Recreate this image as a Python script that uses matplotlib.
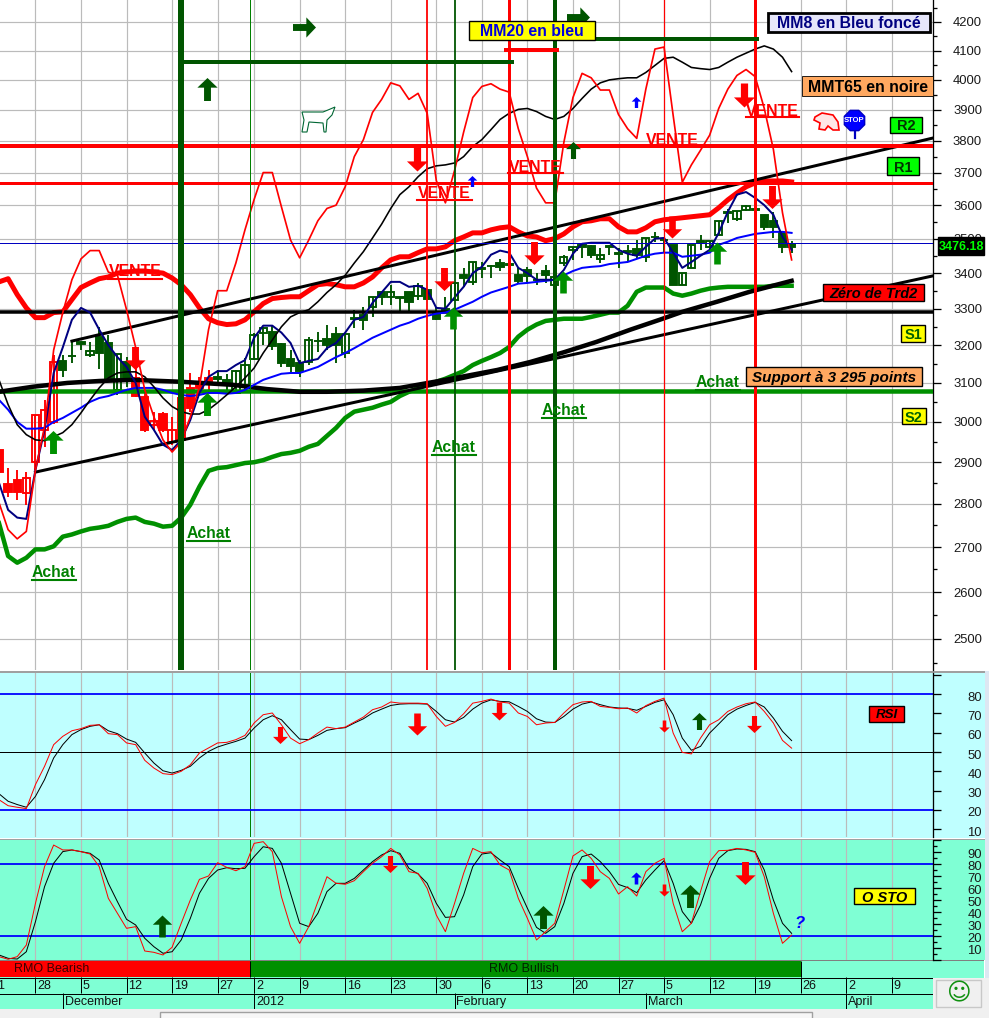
"""Trading-platform style index chart with price, RSI and stochastic panes."""

import matplotlib

matplotlib.use("Agg")
import matplotlib.pyplot as plt
import numpy as np
from matplotlib.lines import Line2D
from matplotlib.patches import Polygon, Rectangle
from matplotlib.path import Path
from matplotlib.ticker import FixedLocator, FuncFormatter, NullFormatter
from matplotlib.transforms import Affine2D, ScaledTranslation

plt.rcParams["font.family"] = ["Liberation Sans", "DejaVu Sans"]

WIDTH, HEIGHT = 989, 1018

# trading days are counted from 5 December 2011 = day 0
FIRST_DAY = -9
WEEK_DAYS = [-10, -5, 0, 5, 10, 15, 19, 24, 29, 34, 39, 44, 49, 54, 59, 64, 69, 74, 79, 84, 89]
WEEK_LABELS = ["21", "28", "5", "12", "19", "27", "2", "9", "16", "23", "30", "6", "13", "20", "27",
               "5", "12", "19", "26", "2", "9"]
MONTH_DAYS = [-2, 19, 41, 62, 84]
MONTH_LABELS = ["December", "2012", "February", "March", "April"]

CANDLE_OPEN = [2930, 2848, 2857, 2826, 2900, 2980, 3000, 3158, 3172, 3208, 3173, 3223, 3206, 3082, 3155,
               3113, 3064, 2993, 3020, 2950, 3061, 3087, 3095, 3113, 3116, 3108, 3074, 3095, 3163, 3233,
               3236, 3203, 3163, 3152, 3155, 3212, 3217, 3231, 3179, 3275, 3283, 3305, 3345, 3331, 3331,
               3345, 3336, 3353, 3289, 3298, 3325, 3394, 3375, 3415, 3420, 3429, 3426, 3394, 3409, 3381,
               3406, 3367, 3429, 3467, 3482, 3479, 3441, 3477, 3457, 3463, 3470, 3447, 3506, 3497, 3482,
               3367, 3415, 3492, 3476, 3511, 3578, 3559, 3586, 3587, 3571, 3553, 3517, 3485]
CANDLE_HIGH = [2955, 2886, 2881, 2876, 3018, 3056, 3173, 3173, 3209, 3209, 3209, 3250, 3228, 3176, 3168,
               3160, 3082, 3026, 3026, 3013, 3069, 3126, 3116, 3134, 3134, 3124, 3134, 3166, 3234, 3250,
               3256, 3206, 3187, 3160, 3223, 3236, 3256, 3250, 3231, 3297, 3305, 3333, 3345, 3367, 3333,
               3345, 3372, 3353, 3305, 3331, 3375, 3415, 3432, 3432, 3423, 3441, 3435, 3415, 3418, 3400,
               3423, 3395, 3453, 3476, 3482, 3482, 3473, 3482, 3473, 3482, 3496, 3502, 3520, 3502, 3482,
               3400, 3482, 3511, 3494, 3553, 3589, 3583, 3600, 3592, 3571, 3580, 3517, 3494]
CANDLE_LOW = [2862, 2817, 2810, 2798, 2881, 2938, 2995, 3116, 3152, 3187, 3168, 3137, 3103, 3069, 3090,
              3064, 2975, 2980, 2975, 2943, 2943, 3026, 3069, 3077, 3100, 3082, 3072, 3082, 3160, 3200,
              3187, 3142, 3129, 3116, 3147, 3181, 3187, 3152, 3166, 3247, 3242, 3277, 3311, 3311, 3291,
              3294, 3325, 3325, 3269, 3289, 3320, 3361, 3367, 3386, 3386, 3406, 3415, 3372, 3372, 3367,
              3372, 3360, 3420, 3438, 3444, 3444, 3429, 3453, 3415, 3432, 3444, 3432, 3491, 3462, 3367,
              3367, 3415, 3467, 3462, 3511, 3547, 3553, 3583, 3580, 3526, 3502, 3459, 3459]
CANDLE_CLOSE = [2876, 2829, 2829, 2862, 3018, 3031, 3155, 3134, 3170, 3204, 3184, 3179, 3108, 3176, 3108,
                3066, 2980, 3003, 2980, 2980, 2955, 3036, 3087, 3105, 3111, 3100, 3131, 3147, 3228, 3247,
                3197, 3152, 3145, 3131, 3214, 3210, 3200, 3200, 3231, 3272, 3269, 3333, 3331, 3345, 3330,
                3319, 3364, 3328, 3272, 3295, 3372, 3386, 3432, 3412, 3419, 3418, 3423, 3378, 3392, 3380,
                3394, 3389, 3447, 3476, 3476, 3453, 3453, 3475, 3455, 3461, 3453, 3502, 3504, 3495, 3367,
                3400, 3482, 3490, 3494, 3553, 3576, 3583, 3598, 3585, 3535, 3535, 3476, 3476.18]
RED_CANDLE_DAYS = [-9, -8, -7, -6, -5, -4, -3, 6, 7, 8, 9, 10, 11, 12, 13, 14]

MM8 = [2850, 2786, 2768, 2765, 2881, 2980, 3126, 3194, 3269, 3302, 3289, 3242, 3200, 3168, 3142, 3100, 3013,
       2980, 2943, 2930, 2955, 3005, 3074, 3116, 3131, 3131, 3147, 3160, 3220, 3253, 3253, 3234, 3206, 3152,
       3158, 3163, 3192, 3206, 3234, 3269, 3277, 3316, 3345, 3375, 3375, 3361, 3364, 3353, 3302, 3300, 3331,
       3361, 3400, 3418, 3453, 3465, 3459, 3415, 3400, 3381, 3381, 3381, 3409, 3456, 3485, 3488, 3488, 3488,
       3467, 3456, 3450, 3476, 3500, 3502, 3459, 3415, 3432, 3450, 3467, 3517, 3580, 3632, 3640, 3622, 3600,
       3571, 3505, 3467]
MM20 = [3056, 3031, 3000, 2983, 2983, 2985, 3000, 3010, 3023, 3036, 3051, 3061, 3066, 3074, 3082, 3087, 3087,
        3087, 3082, 3074, 3069, 3066, 3069, 3074, 3074, 3072, 3074, 3082, 3095, 3108, 3116, 3124, 3126, 3126,
        3134, 3142, 3155, 3168, 3179, 3192, 3206, 3220, 3231, 3242, 3253, 3261, 3272, 3280, 3286, 3289, 3297,
        3308, 3319, 3333, 3345, 3353, 3361, 3370, 3372, 3375, 3378, 3381, 3394, 3406, 3415, 3418, 3420, 3426,
        3429, 3432, 3441, 3450, 3456, 3459, 3459, 3447, 3450, 3453, 3459, 3482, 3491, 3502, 3508, 3514, 3517,
        3520, 3520, 3517]
THIN_BLACK = [3108, 3044, 2993, 2968, 2955, 2953, 2963, 2973, 2993, 3023, 3056, 3087, 3113, 3126, 3129, 3129,
              3116, 3090, 3061, 3039, 3026, 3020, 3020, 3031, 3049, 3069, 3090, 3113, 3139, 3179, 3214, 3250,
              3277, 3289, 3297, 3319, 3345, 3367, 3394, 3429, 3462, 3502, 3543, 3590, 3632, 3656, 3687, 3712,
              3721, 3724, 3730, 3750, 3782, 3804, 3836, 3869, 3889, 3902, 3905, 3895, 3879, 3869, 3879, 3905,
              3938, 3969, 3990, 4000, 4004, 4007, 4007, 4025, 4049, 4073, 4077, 4060, 4042, 4038, 4035, 4042,
              4060, 4077, 4091, 4105, 4116, 4105, 4077, 4028]
THIN_RED = [2803, 2740, 2719, 2736, 2881, 2988, 3187, 3289, 3381, 3441, 3465, 3465, 3403, 3394, 3297, 3194,
            3082, 3013, 2955, 2925, 2950, 3013, 3090, 3242, 3350, 3350, 3429, 3526, 3617, 3700, 3700, 3595,
            3496, 3444, 3496, 3553, 3590, 3600, 3656, 3750, 3804, 3892, 3935, 3990, 3980, 3935, 3955, 3889,
            3675, 3607, 3706, 3828, 3941, 3978, 3987, 3969, 3959, 3839, 3750, 3652, 3607, 3607, 3795, 3941,
            4022, 4007, 3966, 3966, 3885, 3839, 3808, 3969, 4105, 4112, 3882, 3670, 3724, 3770, 3818, 3905,
            3969, 4015, 4035, 4011, 3905, 3773, 3577, 3438]
BAND_UP = [3375, 3384, 3339, 3302, 3275, 3275, 3289, 3291, 3325, 3359, 3372, 3384, 3389, 3400, 3403, 3406, 3406,
           3403, 3400, 3386, 3367, 3339, 3302, 3272, 3261, 3256, 3258, 3269, 3291, 3314, 3328, 3331, 3333, 3333,
           3350, 3367, 3370, 3367, 3361, 3361, 3372, 3389, 3415, 3438, 3447, 3447, 3459, 3470, 3470, 3476, 3494,
           3505, 3517, 3517, 3526, 3532, 3535, 3520, 3508, 3505, 3494, 3500, 3514, 3535, 3550, 3553, 3559, 3559,
           3535, 3520, 3520, 3532, 3550, 3556, 3559, 3562, 3565, 3568, 3571, 3592, 3616, 3637, 3656, 3668, 3674,
           3674, 3674, 3671]
BAND_DOWN = [2755, 2680, 2665, 2676, 2695, 2695, 2702, 2724, 2729, 2736, 2742, 2745, 2749, 2758, 2765, 2768, 2758,
             2754, 2747, 2749, 2768, 2798, 2841, 2879, 2886, 2888, 2893, 2898, 2900, 2905, 2913, 2920, 2923, 2928,
             2938, 2945, 2965, 2985, 3010, 3026, 3031, 3036, 3044, 3051, 3066, 3077, 3087, 3095, 3103, 3111, 3121,
             3131, 3147, 3158, 3168, 3179, 3195, 3223, 3242, 3256, 3266, 3269, 3272, 3272, 3272, 3277, 3283, 3289,
             3289, 3308, 3347, 3359, 3359, 3359, 3342, 3336, 3342, 3350, 3356, 3359, 3361, 3361, 3361, 3361, 3361,
             3364, 3364, 3364]
MMT65_DAYS = [-9, -5.3, -1.5, 2, 5.7, 11, 16.7, 20.4, 24, 27, 31, 35, 40, 45.7, 49.3, 53, 56.6, 60.3, 63.5, 66,
              69.8, 73.4, 78]
MMT65_VALUES = [3077, 3090, 3100, 3105, 3108, 3103, 3095, 3084, 3077, 3077, 3080, 3087, 3108, 3134, 3155, 3181,
                3209, 3242, 3269, 3291, 3319, 3347, 3378]

TREND_UP_DAYS = [-1, 93.5]
TREND_UP_VALUES = [3211, 3809]
TREND_LOW_DAYS = [-5, 93.5]
TREND_LOW_VALUES = [2876, 3392]

R2_LEVEL, R1_LEVEL, ZERO_TRD2, S2_LEVEL, LAST_LINE = 3785, 3667, 3290, 3080, 3488
LAST_PRICE = "3476.18"
HIGH_STOP_LEVEL, MID_STOP_LEVEL, RED_STOP_LEVEL = 4060, 4139, 4102

GREEN_VERTICAL_THICK = 11
THIN_GREEN_VERTICAL = 18.5
RMO_BEAR_END, RMO_BULL_END = 18.5, 79

RSI_BLACK = [28.4, 24.5, 22.8, 21.4, 27, 35.7, 46.9, 53.8, 59, 61.6, 63.3, 64.1, 61, 59.5, 56.7, 55, 49.5, 44.3,
             40.3, 39.1, 40.5, 42.6, 46.9, 50.3, 52.6, 54.1, 55.5, 57.2, 62.4, 66.7, 68.8, 66.7, 61.6, 56.7, 56.4,
             58.6, 61.2, 62.1, 62.6, 65, 67.2, 70.2, 72.2, 74.1, 74.8,
             75, 75, 74.8, 71, 66.7, 65.5, 67.9, 72.2, 75.3, 77, 76.2, 76, 73.6, 71, 67.2, 65.5, 65.3, 68.4, 72.2,
             74.8, 75.9, 74.5, 73.3, 72.8, 72.6, 71.6, 73.6, 75.7, 77, 69.3, 57.2, 50.9, 52.9, 59.8, 64.5, 69.3,
             72.2, 74.1, 75.7, 73.3, 67.6, 60.7, 55.9]
RSI_RED = [25.3, 22.2, 21.4, 20.7, 33.1, 42.6, 53.8, 58.1, 61, 62.1, 63.8, 64.1, 59.5, 59, 54.7, 53.8, 45.7, 41.7,
           38.8, 38.3, 40, 43.4, 49.5, 52.1, 54.7, 55, 56.4, 58.6, 65, 69.3, 70.2, 64.1, 57.2, 54.3, 56.4, 59.8,
           62.9, 62.1, 62.9, 65.5, 68.1, 71.9, 73.3, 75.9, 75.3,
           75.3, 75.3, 75, 68.4, 63.3, 65.3, 69.8, 75.3, 76.2, 77.4, 75.9, 75.3, 70.2, 68.4, 64.1, 65, 65.3, 70.2,
           74.5, 75.9, 76.2, 73.6, 73.1, 72.4, 72.8, 70.2, 74, 76.2, 77.9, 59.8, 49.8, 49, 57.2, 64.1, 66.7, 71,
           73.3, 75, 75.9, 71, 65, 56, 52]
STO_BLACK = [4.2, 1.4, 0.8, 6.9, 31.9, 61.1, 80.6, 90.3, 91.7, 90.3, 88.9, 83.3, 63.9, 48.6, 33.9, 29.2, 18.1, 11.1,
             5.6, 6.9, 16.7, 34.7, 55.6, 68, 75, 76.9, 76.1, 76.4, 86.1, 94.4, 93, 80.6, 55.6, 30.6, 27.8, 38.9, 57,
             63.9, 63.9, 68, 75, 82, 87.5, 91.1, 88.9,
             76.4, 71.7, 63.9, 47.2, 35.5, 36.1, 54.2, 77.8, 88.3, 89.4, 83.3, 77.8, 59.7, 43.1, 27.2, 22.2, 27.8,
             47.2, 72.2, 86.1, 88.3, 82, 73.6, 63, 60.3, 56.1, 66.7, 75, 82.8, 63.9, 40.3, 30.6, 45.8, 68, 84.7,
             91.1, 92.5, 92.2, 90.3, 75, 50, 30.6, 22.2]
STO_RED = [2.8, 0.6, 2.8, 12.5, 47.2, 77.8, 95.8, 91.7, 91.7, 90.3, 88.3, 77.8, 51.4, 38.9, 26.4, 27.8, 7.5, 6.4, 4.2,
           10.6, 30.6, 50, 67.2, 70, 81.1, 77.2, 74.4, 77.8, 97.2, 98.6, 90.3, 52.8, 27.8, 13.9, 27.8, 48.6, 69.4,
           63.9, 63.1, 66.1, 73.6, 80.6, 86.1, 93, 87.5,
           73.6, 72.2, 59.7, 37.5, 23.6, 47.2, 72.2, 93, 89.4, 90.3, 79.2, 75, 51.4, 34.7, 16.7, 23.6, 30.6, 58.3,
           86.7, 91.7, 84.7, 73.6, 68, 55, 61.1, 53.3, 73.6, 80.6, 84.7, 47.2, 23.6, 30.6, 57, 82, 91.1, 91.4, 93,
           91.7, 89.7, 69.4, 38.9, 13.9, 20.8]

SELL_DAYS = [5.93, 36.9, 39.85, 49.7, 64.9, 72.8, 75.85]
SELL_PRICES = [3165, 3742, 3384, 3459, 3535, 3948, 3624]
BUY_DAYS = [-3.07, 13.83, 40.83, 52.9, 69.8]
BUY_PRICES = [2950, 3046, 3275, 3375, 3459]
DARK_UP_DAYS = [13.83, 54]
DARK_UP_PRICES = [3970, 3770]
BLUE_UP_DAYS = [42.9, 60.9]
BLUE_UP_PRICES = [3673, 3926]
RIGHT_DAYS = [24.5, 54.55]
RIGHT_PRICES = [4182, 4218]
RSI_SELL_DAYS = [21.85, 36.85, 45.9, 63.96, 73.9]
RSI_SELL_VALUES = [58.6, 64.6, 71, 63.6, 64.6]
RSI_BUY_DAYS = [67.85]
RSI_BUY_VALUES = [66.2]
STO_BUY_DAYS = [8.86, 50.7, 66.85]
STO_BUY_VALUES = [28.6, 36, 53.6]
STO_SELL_DAYS = [33.9, 55.85, 63.96, 72.85]
STO_SELL_VALUES = [79.7, 68.9, 58.3, 72.2]
STO_BLUE_DAYS = [60.9]
STO_BLUE_VALUES = [68]

RED = "#ff0000"
DARK_GREEN = "#005500"
MID_GREEN = "#009000"
NAVY = "#000080"
BLUE = "#0000ff"
GRID = "#bbbbbb"
XLIM = (-8.89, 93.52)
PX = 0.72  # points per pixel at dpi 100


def rect(left, top, right, bottom):
    return [left / WIDTH, 1 - bottom / HEIGHT, (right - left) / WIDTH, (bottom - top) / HEIGHT]


def fx(x):
    return x / WIDTH


def fy(y):
    return 1 - y / HEIGHT


def days_of(series):
    return np.arange(FIRST_DAY, FIRST_DAY + len(series))


fig = plt.figure(figsize=(WIDTH / 100, HEIGHT / 100), dpi=100, facecolor="white")


def back(left, top, right, bottom, color, zorder=-2, edge="none", lw=0):
    patch = Rectangle((fx(left), fy(bottom)), (right - left) / WIDTH, (bottom - top) / HEIGHT,
                      transform=fig.transFigure, facecolor=color, edgecolor=edge, linewidth=lw, zorder=zorder)
    fig.add_artist(patch)


def label(left, top, right, bottom, text, fc, color="black", size=11.4, weight="bold", style="normal",
          edge="black", lw=1.0):
    back(left, top, right, bottom, fc, zorder=6, edge=edge, lw=lw)
    fig.text(fx((left + right) / 2), fy((top + bottom) / 2), text, color=color, fontsize=size, fontweight=weight,
             fontstyle=style, ha="center", va="center_baseline", zorder=7)


def signal(left, right, top, bottom, rule, text, color, size):
    fig.text(fx((left + right) / 2), fy((top + bottom) / 2), text, color=color, fontsize=size, fontweight="bold",
             ha="center", va="center_baseline", zorder=7)
    fig.add_artist(Line2D([fx(left), fx(right)], [fy(rule), fy(rule)], color=color, lw=1.5, zorder=7))


ARROW_UP = Path([(-0.15, -0.5), (0.15, -0.5), (0.15, 0.08), (0.44, 0.08), (0, 0.5), (-0.44, 0.08), (-0.15, 0.08),
                 (-0.15, -0.5)], closed=True)
ARROW_DOWN = ARROW_UP.transformed(Affine2D().scale(1, -1))
ARROW_RIGHT = ARROW_UP.transformed(Affine2D().rotate_deg(-90))


def arrows(ax, days, values, marker, color, heights):
    for day, value, height in zip(days, values, heights):
        ax.plot([day], [value], marker=marker, markersize=height * PX, color=color, markeredgewidth=0,
                linestyle="none", zorder=8, clip_on=False)


# window backgrounds
back(0, 673, 985, 838, "#bfffff")
back(0, 840, 985, 960, "#7fffd4")
back(0, 961, 984, 978, "#7fffd4")
back(0, 978, 933, 1009, "#7fffd4")
back(933, 978, 989, 1018, "#f0f0f0")
back(0, 1009, 989, 1018, "#f0f0f0")
back(985, 671, 989, 978, "#dde7f2")
back(0, 670.5, 985, 673, "#a0a0a0")
back(0, 838.5, 985, 840, "#a0a0a0")
back(0, 960, 984, 961, "#808080")
back(160, 1012, 812, 1020, "#f7f7f7", edge="#a0a0a0", lw=1)

# price pane
ax = fig.add_axes(rect(0, 0, 933, 670), facecolor="none")
ax.set_yscale("log")
ax.set_xlim(*XLIM)
ax.set_ylim(2435, 4278)
for week in WEEK_DAYS[1:]:
    ax.axvline(week, color=GRID, lw=1.2 * PX, zorder=1)
price_ticks = list(range(2500, 4300, 100))
for level in price_ticks:
    ax.axhline(level, color=GRID, lw=1.2 * PX, zorder=1)

red_set = set(RED_CANDLE_DAYS)
for day, o, h, l, c in zip(days_of(CANDLE_OPEN), CANDLE_OPEN, CANDLE_HIGH, CANDLE_LOW, CANDLE_CLOSE):
    color = RED if day in red_set else DARK_GREEN
    ax.vlines(day, l, h, color=color, lw=1.9 * PX, zorder=2)
    filled = c <= o
    ax.bar(day, abs(o - c), bottom=min(o, c), width=0.8, facecolor=color if filled else "none", edgecolor=color,
           linewidth=1.9 * PX, zorder=2)

ax.axhline(S2_LEVEL, color=MID_GREEN, lw=4.5 * PX, zorder=3)
ax.plot(days_of(BAND_DOWN), BAND_DOWN, color=MID_GREEN, lw=4.5 * PX, zorder=3)
ax.plot(days_of(BAND_UP), BAND_UP, color=RED, lw=5 * PX, zorder=3)
ax.plot(MMT65_DAYS, MMT65_VALUES, color="black", lw=4.5 * PX, zorder=4)
ax.plot(TREND_UP_DAYS, TREND_UP_VALUES, color="black", lw=3 * PX, zorder=4)
ax.plot(TREND_LOW_DAYS, TREND_LOW_VALUES, color="black", lw=3 * PX, zorder=4)
ax.axhline(ZERO_TRD2, color="black", lw=3.5 * PX, zorder=4)
ax.plot(days_of(MM20), MM20, color=BLUE, lw=2 * PX, zorder=5)
ax.plot(days_of(MM8), MM8, color=NAVY, lw=2 * PX, zorder=5)
ax.plot(days_of(THIN_BLACK), THIN_BLACK, color="black", lw=1.6 * PX, zorder=5)
ax.plot(days_of(THIN_RED), THIN_RED, color=RED, lw=1.7 * PX, zorder=5)
ax.axhline(LAST_LINE, color="#0000c0", lw=1 * PX, zorder=5)
ax.axhline(R2_LEVEL, color=RED, lw=4 * PX, zorder=5)
ax.axhline(R1_LEVEL, color=RED, lw=3 * PX, zorder=5)

ax.axvline(GREEN_VERTICAL_THICK, color=DARK_GREEN, lw=6 * PX, zorder=6)
ax.axvline(38, color=RED, lw=1.8 * PX, zorder=6)
ax.axvline(41, color=DARK_GREEN, lw=1.8 * PX, zorder=6)
ax.axvline(47, color=RED, lw=3 * PX, zorder=6)
ax.axvline(52, color=DARK_GREEN, lw=4 * PX, zorder=6)
ax.axvline(64, color=RED, lw=1.2 * PX, zorder=6)
ax.axvline(74, color=RED, lw=3 * PX, zorder=6)
ax.axvline(THIN_GREEN_VERTICAL, color="#008000", lw=1 * PX, zorder=6)
ax.plot([11, 47.3], [HIGH_STOP_LEVEL, HIGH_STOP_LEVEL], color=DARK_GREEN, lw=4 * PX, zorder=6)
ax.plot([52, 74.2], [MID_STOP_LEVEL, MID_STOP_LEVEL], color=DARK_GREEN, lw=4 * PX, zorder=6)
ax.plot([46.7, 52.2], [RED_STOP_LEVEL, RED_STOP_LEVEL], color=RED, lw=4 * PX, zorder=6)

arrows(ax, SELL_DAYS, SELL_PRICES, ARROW_DOWN, RED, [23, 24, 23, 23, 22, 24, 23])
arrows(ax, BUY_DAYS, BUY_PRICES, ARROW_UP, MID_GREEN, [23, 23, 22, 22, 22])
arrows(ax, DARK_UP_DAYS, DARK_UP_PRICES, ARROW_UP, DARK_GREEN, [23, 17])
arrows(ax, BLUE_UP_DAYS, BLUE_UP_PRICES, ARROW_UP, BLUE, [11, 11])
arrows(ax, RIGHT_DAYS, RIGHT_PRICES, ARROW_RIGHT, DARK_GREEN, [23, 23])


def style_axis(pane, major, labelled, minor, label_drop=0):
    for side in ("left", "top", "bottom"):
        pane.spines[side].set_visible(False)
    pane.spines["right"].set_linewidth(1.3 * PX)
    pane.xaxis.set_visible(False)
    pane.yaxis.tick_right()
    pane.yaxis.set_major_locator(FixedLocator(major))
    pane.yaxis.set_minor_locator(FixedLocator(minor))
    pane.yaxis.set_major_formatter(FuncFormatter(lambda v, _: f"{v:.0f}" if v in labelled else ""))
    pane.yaxis.set_minor_formatter(NullFormatter())
    pane.tick_params(axis="y", which="major", length=8 * PX, width=1.3 * PX, pad=41 * PX, labelsize=9.4,
                     labelcolor="#1a1a1a")
    pane.tick_params(axis="y", which="minor", length=4 * PX, width=1.3 * PX)
    shift = ScaledTranslation(0, -label_drop / 100, fig.dpi_scale_trans)
    for tick in pane.yaxis.get_major_ticks():
        tick.label2.set_horizontalalignment("right")
        tick.label2.set_transform(tick.label2.get_transform() + shift)


style_axis(ax, price_ticks, price_ticks, [v + 50 for v in range(2400, 4300, 100)])

# RSI pane
rsi = fig.add_axes(rect(0, 673, 933, 837), facecolor="none")
rsi.set_xlim(*XLIM)
rsi.set_ylim(6.0, 90.9)
for week in WEEK_DAYS[1:]:
    rsi.axvline(week, color=GRID, lw=1.2 * PX, zorder=1)
rsi.axvline(THIN_GREEN_VERTICAL, color="#008000", lw=1 * PX, zorder=2)
rsi.axhline(80, color=BLUE, lw=1.8 * PX, zorder=2)
rsi.axhline(20, color=BLUE, lw=1.8 * PX, zorder=2)
rsi.axhline(50, color="black", lw=1 * PX, zorder=2)
rsi.plot(days_of(RSI_BLACK), RSI_BLACK, color="black", lw=1 * PX, zorder=3)
rsi.plot(days_of(RSI_RED), RSI_RED, color=RED, lw=1 * PX, zorder=3)
arrows(rsi, RSI_SELL_DAYS, RSI_SELL_VALUES, ARROW_DOWN, RED, [17, 22, 18, 12, 17])
arrows(rsi, RSI_BUY_DAYS, RSI_BUY_VALUES, ARROW_UP, DARK_GREEN, [17])
style_axis(rsi, list(range(10, 100, 10)), list(range(10, 90, 10)), [v + 5 for v in range(5, 90, 10)], label_drop=2)

# stochastic pane
sto = fig.add_axes(rect(0, 840, 933, 960), facecolor="none")
sto.set_xlim(*XLIM)
sto.set_ylim(0, 100)
for week in WEEK_DAYS[1:]:
    sto.axvline(week, color=GRID, lw=1.2 * PX, zorder=1)
sto.axvline(THIN_GREEN_VERTICAL, color="#008000", lw=1 * PX, zorder=2)
sto.axhline(80, color=BLUE, lw=1.8 * PX, zorder=2)
sto.axhline(20, color=BLUE, lw=1.8 * PX, zorder=2)
sto.plot(days_of(STO_BLACK), STO_BLACK, color="black", lw=1 * PX, zorder=3)
sto.plot(days_of(STO_RED), STO_RED, color=RED, lw=1 * PX, zorder=3)
arrows(sto, STO_BUY_DAYS, STO_BUY_VALUES, ARROW_UP, DARK_GREEN, [22, 23, 23])
arrows(sto, STO_SELL_DAYS, STO_SELL_VALUES, ARROW_DOWN, RED, [17, 23, 12, 23])
arrows(sto, STO_BLUE_DAYS, STO_BLUE_VALUES, ARROW_UP, BLUE, [12])
style_axis(sto, list(range(0, 110, 10)), list(range(10, 100, 10)), [v + 5 for v in range(0, 100, 10)], label_drop=2)

# date strip: rows are counted in pixels from the top of the strip
dates = fig.add_axes(rect(0, 961, 933, 1009), facecolor="none")
dates.set_xlim(*XLIM)
dates.set_ylim(48, 0)
dates.axis("off")
dates.fill_between([XLIM[0], RMO_BEAR_END], 0, 16, color=RED, lw=0)
dates.fill_between([RMO_BEAR_END, RMO_BULL_END], 0, 16, color=MID_GREEN, lw=0)
dates.text(-3.18, 8.5, "RMO Bearish", color="#3a0000", fontsize=9, ha="center", va="center")
dates.text(48.6, 8.5, "RMO Bullish", color="#002200", fontsize=9, ha="center", va="center")
dates.axhline(16.5, color="black", lw=1 * PX)
dates.axhline(32.5, color="black", lw=1 * PX)
dates.vlines(WEEK_DAYS, 16, 32, color="black", lw=1 * PX)
dates.vlines(MONTH_DAYS, 32, 48, color="black", lw=1 * PX)
dates.vlines([RMO_BEAR_END, RMO_BULL_END], 0, 16, color="black", lw=1 * PX)
for day, text in zip(WEEK_DAYS, WEEK_LABELS):
    dates.text(day + 0.2, 25, text, fontsize=9, color="#111111", ha="left", va="center", clip_on=True)
for day, text in zip(MONTH_DAYS, MONTH_LABELS):
    dates.text(day + 0.2, 41, text, fontsize=9, color="#111111", ha="left", va="center", clip_on=True)

# labels pasted on the chart
label(469, 21, 595, 40, "MM20 en bleu", "#ffff00", color="#0000e0")
label(768, 13, 930, 32, "MM8 en Bleu foncé", "#e6e6fa", color="#000080", lw=2)
label(802, 76, 933, 96, "MMT65 en noire", "#ffa860", lw=0.6)
label(890, 117, 922, 133, "R2", "#00ff00", size=10.5, color="#003300")
label(887, 157, 919, 175, "R1", "#00ff00", size=10.5, color="#003300")
label(823, 284, 924, 301, "Zéro de Trd2", "#ff0000", size=10.5, style="italic")
label(901, 325, 925, 342, "S1", "#ffff00", size=10.5, color="#006000")
label(902, 408, 926, 424, "S2", "#ffff00", size=10.5, color="#006000")
label(746, 367, 922, 386, "Support à 3 295 points", "#ffa860", size=11, style="italic")
label(869, 706, 904, 722, "RSI", "#ff0000", size=9.6, style="italic")
label(854, 888, 915, 904, "O STO", "#ffff00", size=10.5, style="italic")
label(938, 237, 984, 255, LAST_PRICE, "black", color="#00ff00", size=9, edge="black")

for left, right, top, bottom, rule in [(108, 162, 263, 277, 279), (417, 472, 185, 198, 200),
                                       (508, 563, 159, 172, 173), (646, 699, 133, 146, 146),
                                       (746, 799, 103, 116, 117)]:
    signal(left, right, top, bottom, rule, "VENTE", RED, 11.4)
for left, right, top, bottom, rule in [(32, 76, 565, 577, 580), (187, 230, 526, 538, 541),
                                       (432, 476, 440, 452, 455), (542, 586, 403, 415, 418),
                                       (696, 740, 375, 387, 390)]:
    signal(left, right, top, bottom, rule, "Achat", "#008000", 11.3)

fig.text(fx(800), fy(923), "?", color=BLUE, fontsize=12, fontweight="bold", fontstyle="italic", ha="center",
         va="center", zorder=7)

# bull, bear and stop sign icons
bull = [(302, 112), (323, 112), (328, 110), (335, 107), (332, 115), (327, 120), (326, 132), (324, 132), (323, 123),
        (309, 122), (307, 132), (302, 132), (304, 120)]
fig.add_artist(Polygon([(fx(x), fy(y)) for x, y in bull], closed=True, transform=fig.transFigure, facecolor="white",
                       edgecolor="#006633", lw=0.8, zorder=6))
bear = [(815, 117), (822, 113), (833, 115), (838, 122), (839, 130), (833, 130), (828, 126), (825, 130), (819, 129),
        (820, 123), (814, 120)]
fig.add_artist(Polygon([(fx(x), fy(y)) for x, y in bear], closed=True, transform=fig.transFigure, facecolor="#ffe6e6",
                       edgecolor=RED, lw=1.2, zorder=6))
fig.add_artist(Line2D([fx(854.5), fx(854.5)], [fy(125), fy(138)], color="#0000c0", lw=1.6, zorder=6))
stop_angles = np.deg2rad(np.arange(22.5, 360, 45))
fig.add_artist(Polygon(np.column_stack([fx(854.5) + 11 * np.cos(stop_angles) / WIDTH,
                                        fy(120.5) + 11 * np.sin(stop_angles) / HEIGHT]),
                       closed=True, transform=fig.transFigure, facecolor=BLUE, edgecolor="#0000c0", zorder=6))
fig.text(fx(854.5), fy(120.5), "STOP", color="white", fontsize=5.5, fontweight="bold", ha="center", va="center",
         zorder=7)

# smiley button in the corner
back(936, 980, 981, 1007, "#f0f0f0", zorder=6, edge="#c8c8c8", lw=1)
fig.text(fx(958.5), fy(993), "\u263a", color="#109010", fontsize=17, family="DejaVu Sans", ha="center",
         va="center", zorder=7)

fig.savefig("out.png", dpi=100)
